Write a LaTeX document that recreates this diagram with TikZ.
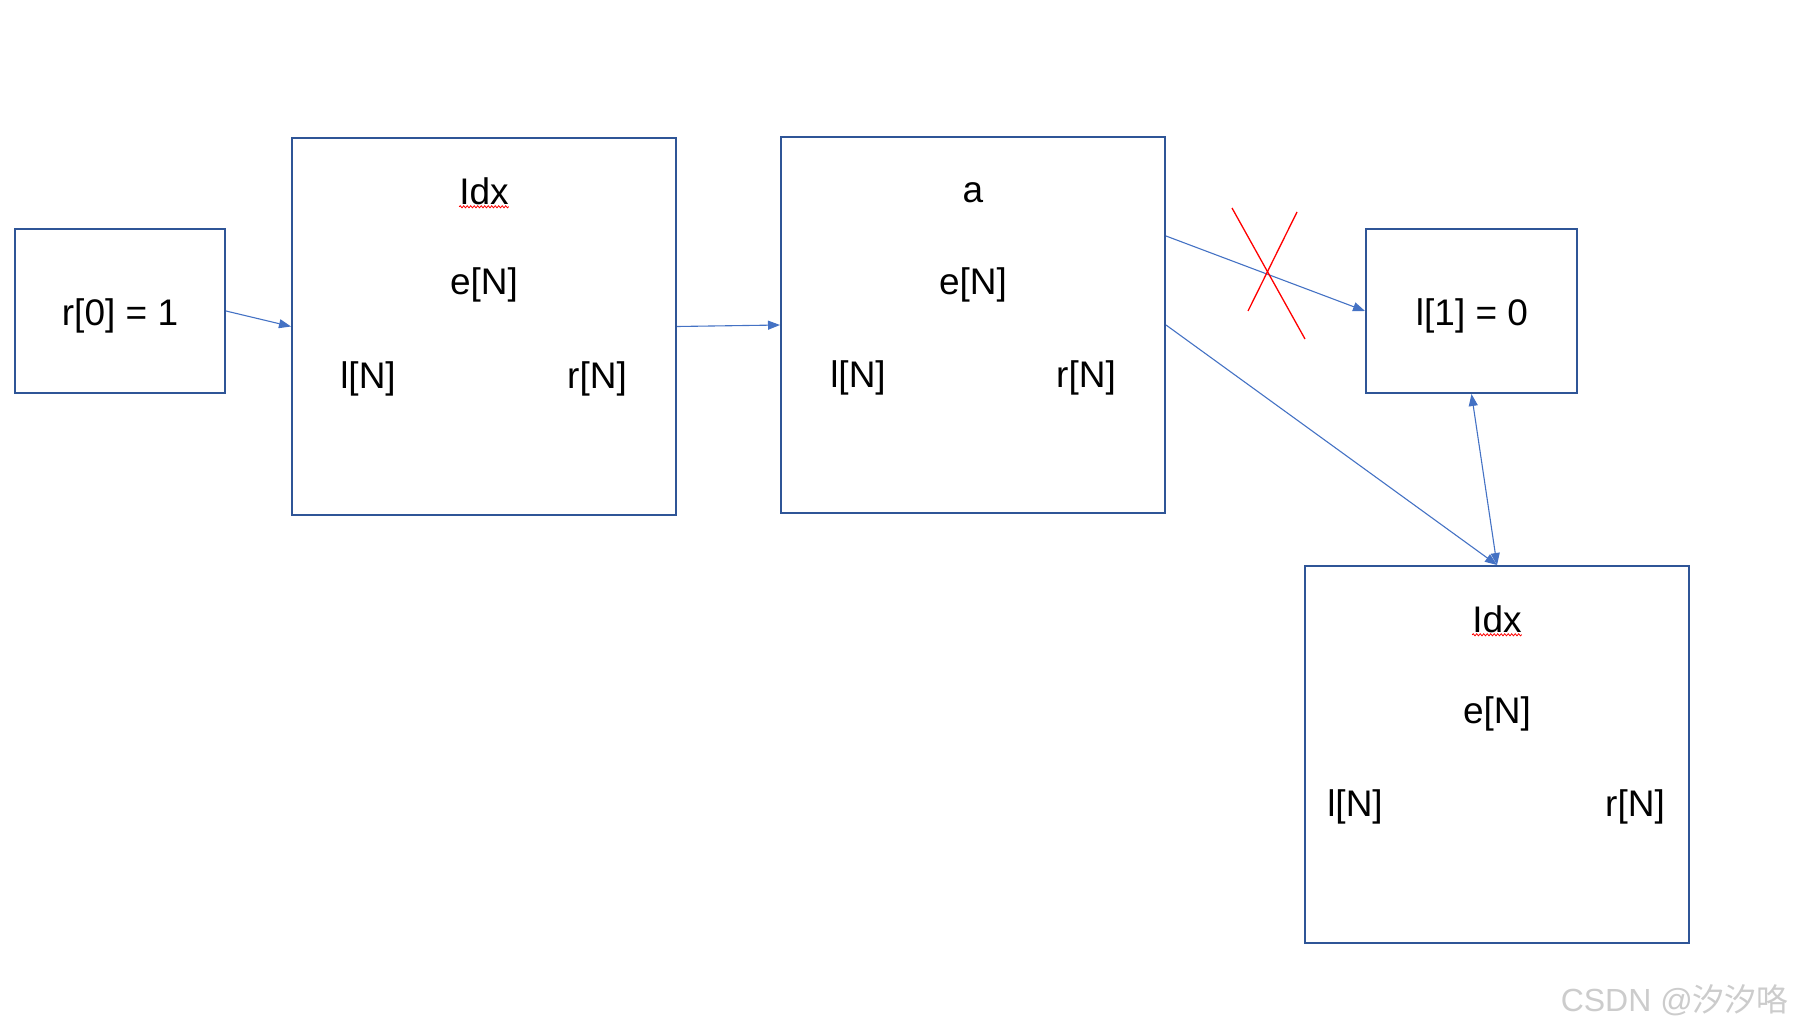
\documentclass[tikz,border=0pt]{standalone}
\usepackage{fontspec}
\setmainfont{Liberation Sans}
\newfontfamily\cjk{Noto Sans CJK SC}
\usetikzlibrary{arrows.meta,calc,decorations.pathmorphing}
\definecolor{boxblue}{HTML}{2F5597}
\definecolor{arrblue}{HTML}{4472C4}
\begin{document}
\begin{tikzpicture}[x=1pt,y=-1pt,
  box/.style={draw=boxblue,line width=2pt,rectangle,inner sep=0pt},
  lbl/.style={font=\fontsize{37}{40}\selectfont,inner sep=0pt,anchor=center},
  conn/.style={draw=arrblue,line width=1.1pt,-{Triangle[length=12pt,width=9pt]}},
  squig/.style={draw=red,line width=0.8pt,decorate,decoration={snake,amplitude=1pt,segment length=3.5pt}}]
\useasboundingbox (0,0) rectangle (1793,1030);
% boxes
\node[box,minimum width=210pt,minimum height=164pt] (b1) at (120,311) {};
\node[box,minimum width=384pt,minimum height=377pt] (b2) at (484,326.5) {};
\node[box,minimum width=384pt,minimum height=376pt] (b3) at (973,325) {};
\node[box,minimum width=211pt,minimum height=164pt] (b4) at (1471.5,311) {};
\node[box,minimum width=384pt,minimum height=377pt] (b5) at (1497,754.5) {};
% texts
\node[lbl] (t1) at (120,316) {r[0] = 1};
\node[lbl] (t2a) at (484,191) {Idx};
\node[lbl] (t2b) at (484,285) {e[N]};
\node[lbl] (t2c) at (368,379) {l[N]};
\node[lbl] (t2d) at (597,379) {r[N]};
\node[lbl] (t3a) at (973,193) {a};
\node[lbl] (t3b) at (973,285) {e[N]};
\node[lbl] (t3c) at (858,378) {l[N]};
\node[lbl] (t3d) at (1086,378) {r[N]};
\node[lbl] (t4) at (1472,316) {l[1] = 0};
\node[lbl] (t5a) at (1497,619) {Idx};
\node[lbl] (t5b) at (1497,714) {e[N]};
\node[lbl] (t5c) at (1355,807) {l[N]};
\node[lbl] (t5d) at (1635,807) {r[N]};
% spell-check squiggles
\draw[squig] ($(t2a.south west)+(0,2)$) -- ($(t2a.south east)+(0,2)$);
\draw[squig] ($(t5a.south west)+(0,2)$) -- ($(t5a.south east)+(0,2)$);
% connectors
\coordinate (s3) at ($(b3.north east)+(0,100)$);
\draw[conn] (b1.east) -- (b2.west);
\draw[conn] (b2.east) -- (b3.west);
\draw[conn] (s3) -- (b4.west);
\draw[conn] (b3.east) -- (b5.north);
\draw[conn,{Triangle[length=12pt,width=9pt]}-{Triangle[length=12pt,width=9pt]}] (b4.south) -- (b5.north);
% red cross
\draw[red,line width=1.3pt] (1232,208) -- (1305,339);
\draw[red,line width=1.3pt] (1297,212) -- (1248,311);
% watermark
\node[anchor=east,inner sep=0pt,text=gray!40,font=\fontsize{32}{34}\selectfont] (wm) at (1789,1000) {CSDN @{\cjk 汐汐咯}};
\end{tikzpicture}
\end{document}
